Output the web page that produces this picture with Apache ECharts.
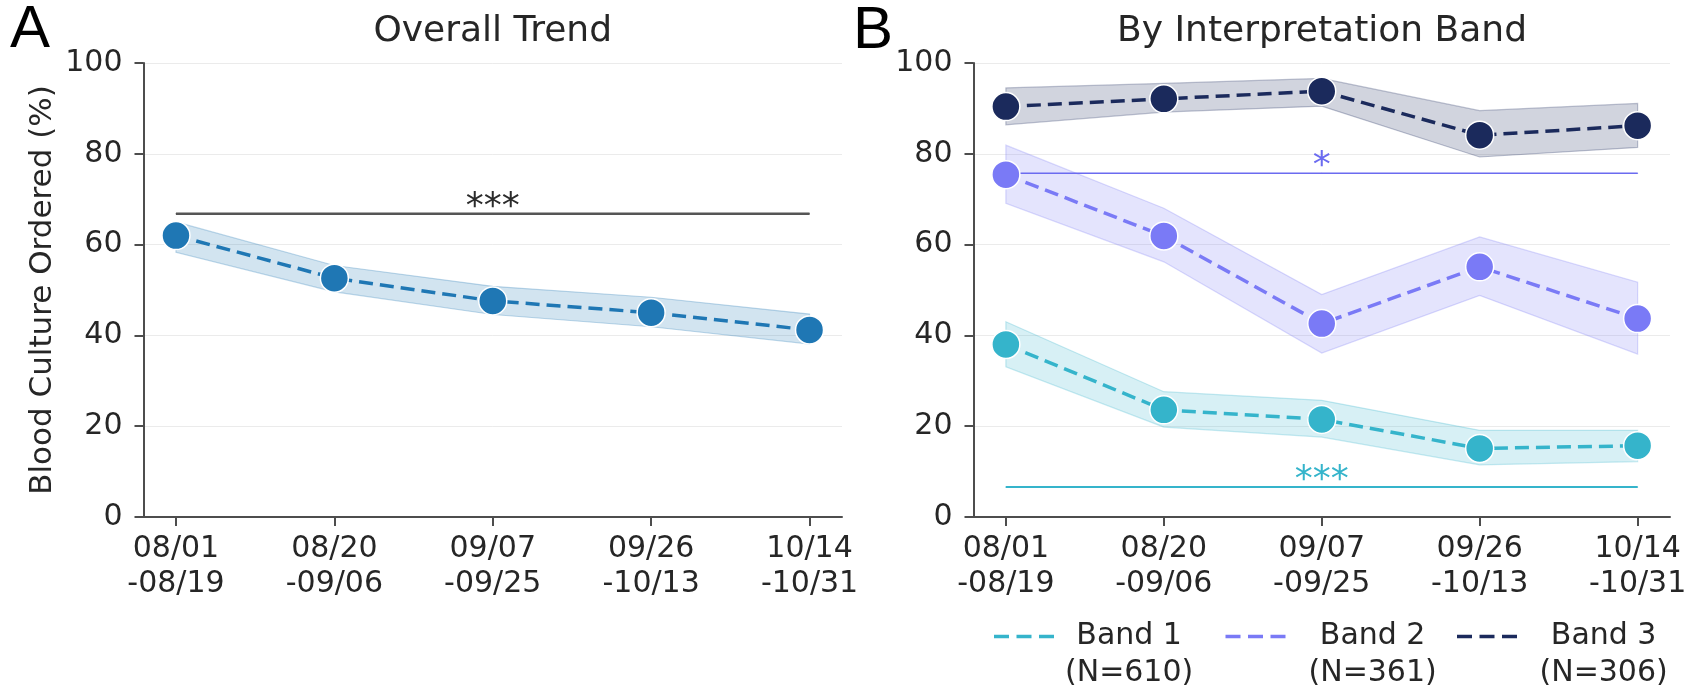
<!DOCTYPE html>
<html><head><meta charset="utf-8">
<script src="https://cdn.jsdelivr.net/npm/echarts@6/dist/echarts.min.js"></script>
<style>html,body{margin:0;padding:0;background:#fff}#c{width:1703px;height:691px}</style>
</head><body><div id="c"></div><script>
// ---------- data ----------
const periodStart = ['08/01', '08/20', '09/07', '09/26', '10/14'];
const periodEnd   = ['-08/19', '-09/06', '-09/25', '-10/13', '-10/31'];
const tickIdx = [0, 1, 2, 3, 4];

const overallMean = [62.0, 52.6, 47.6, 45.0, 41.2];
const overallLo   = [58.3, 49.6, 44.6, 41.9, 38.1];
const overallHi   = [65.0, 55.4, 50.8, 48.4, 44.7];
const overallSig  = 66.8;

const bandNames = ['Band 1', 'Band 2', 'Band 3'];
const bandN     = [610, 361, 306];
const band1Mean = [38.0, 23.6, 21.5, 15.1, 15.7];
const band1Lo   = [33.1, 19.8, 17.6, 11.5, 12.2];
const band1Hi   = [43.0, 27.6, 25.7, 19.1, 19.1];
const band2Mean = [75.4, 61.9, 42.6, 55.1, 43.7];
const band2Lo   = [69.1, 56.2, 36.1, 48.8, 35.9];
const band2Hi   = [81.9, 68.0, 49.0, 61.7, 51.7];
const band3Mean = [90.4, 92.1, 93.8, 84.1, 86.2];
const band3Lo   = [86.4, 89.2, 90.5, 79.3, 81.4];
const band3Hi   = [94.5, 95.5, 96.6, 89.5, 91.1];
const band1Sig  = 6.6;
const band2Sig  = 75.7;

// ---------- style ----------
const FONT = '"DejaVu Sans", Verdana, sans-serif';
const TXT = '#262626';
const AX = '#4d4d4d';
const C0 = '#1f77b4';
const C1 = '#35b4cb';
const C2 = '#7a7af6';
const C3 = '#1b2a5c';
function rgba(hex, a) {
  const n = parseInt(hex.slice(1), 16);
  return `rgba(${(n >> 16) & 255},${(n >> 8) & 255},${n & 255},${a})`;
}

function xAxis(gridIndex) {
  return {
    type: 'value', gridIndex, min: -0.205, max: 4.205,
    axisLine: { show: true, onZero: false, lineStyle: { color: AX, width: 2 } },
    axisTick: { show: true, customValues: tickIdx, length: 9, lineStyle: { color: AX, width: 2 } },
    axisLabel: {
      customValues: tickIdx,
      formatter: v => periodStart[Math.round(v)] + '\n' + periodEnd[Math.round(v)],
      fontSize: 30, lineHeight: 35, color: TXT, fontFamily: FONT, margin: 15
    },
    splitLine: { show: false }
  };
}
function yAxis(gridIndex, name) {
  const ax = {
    type: 'value', gridIndex, min: 0, max: 100, interval: 20,
    axisLine: { show: true, onZero: false, lineStyle: { color: AX, width: 2 } },
    axisTick: { show: true, length: 9, lineStyle: { color: AX, width: 2 } },
    axisLabel: { fontSize: 30, color: TXT, fontFamily: FONT, margin: 21 },
    splitLine: { show: true, lineStyle: { color: '#ebebeb', width: 1 } }
  };
  if (name) {
    ax.name = name; ax.nameLocation = 'middle'; ax.nameGap = 85;
    ax.nameTextStyle = { fontSize: 31, color: TXT, fontFamily: FONT };
  }
  return ax;
}
function ciBand(name, lo, hi, color, gi) {
  return {
    type: 'custom', name, xAxisIndex: gi, yAxisIndex: gi, silent: true, z: 1, clip: false,
    data: [0],
    renderItem: (params, api) => {
      const pts = [];
      for (let i = 0; i < hi.length; i++) pts.push(api.coord([i, hi[i]]));
      for (let i = lo.length - 1; i >= 0; i--) pts.push(api.coord([i, lo[i]]));
      return { type: 'polygon', shape: { points: pts },
        style: { fill: rgba(color, 0.2), stroke: rgba(color, 0.28), lineWidth: 1.2 } };
    }
  };
}
function meanLine(name, vals, color, gi) {
  return {
    type: 'line', name, xAxisIndex: gi, yAxisIndex: gi, z: 4,
    data: vals.map((v, i) => [i, v]),
    symbol: 'circle', symbolSize: 28,
    itemStyle: { color, borderColor: '#fff', borderWidth: 1.5 },
    lineStyle: { color, width: 3.5, type: [14, 7] },
    emphasis: { disabled: true }
  };
}
function sigLine(name, v, label, color, labelColor, width, gi) {
  return {
    type: 'line', name, xAxisIndex: gi, yAxisIndex: gi, z: 3,
    data: [[0, v], { value: [2, v], label: { show: true } }, [4, v]],
    symbol: 'circle', symbolSize: 1, itemStyle: { color },
    lineStyle: { color, width },
    label: { show: false, formatter: label, position: 'top', distance: 0, offset: [0, 12],
      fontSize: 36, color: labelColor, fontFamily: FONT },
    emphasis: { disabled: true }
  };
}

const DASH = 'path://M0,0h15v3.5h-15z M22.5,0h15v3.5h-15z M45,0h15v3.5h-15z';
const legendLeft = [994, 1225.5, 1457];
const legendPad = [6, 18, 17.5];

const option = {
  animation: false,
  backgroundColor: '#fff',
  grid: [
    { left: 143.5, top: 63, width: 698.5, height: 454 },
    { left: 973.5, top: 63, width: 696.5, height: 454 }
  ],
  xAxis: [xAxis(0), xAxis(1)],
  yAxis: [yAxis(0, 'Blood Culture Ordered (%)'), yAxis(1)],
  legend: bandNames.map((nm, i) => ({
    data: [nm], left: legendLeft[i], top: 621.5, padding: 0,
    itemWidth: 60, itemHeight: 3.5, icon: DASH, selectedMode: false,
    itemStyle: { borderWidth: 0 },
    formatter: n => `{a|${n}}\n{a|(N=${bandN[i]})}`,
    textStyle: { padding: [37, 0, 0, legendPad[i]],
      rich: { a: { align: 'center', fontSize: 30, lineHeight: 37, fontFamily: FONT, color: TXT } } }
  })),
  graphic: [
    { type: 'text', x: 10, y: 30, style: { text: 'A', font: '60px "Liberation Sans", Arial, sans-serif', fill: '#000', textAlign: 'left', textVerticalAlign: 'middle', align: 'left', verticalAlign: 'middle' } },
    { type: 'text', x: 853, y: 31, style: { text: 'B', font: '60px "Liberation Sans", Arial, sans-serif', fill: '#000', textAlign: 'left', textVerticalAlign: 'middle', align: 'left', verticalAlign: 'middle' } },
    { type: 'text', x: 492.7, y: 31.5, style: { text: 'Overall Trend', font: '36px ' + FONT, fill: TXT, textAlign: 'center', textVerticalAlign: 'middle', align: 'center', verticalAlign: 'middle' } },
    { type: 'text', x: 1322, y: 31.5, style: { text: 'By Interpretation Band', font: '36px ' + FONT, fill: TXT, textAlign: 'center', textVerticalAlign: 'middle', align: 'center', verticalAlign: 'middle' } }
  ],
  series: [
    ciBand('Overall CI', overallLo, overallHi, C0, 0),
    sigLine('Overall sig', overallSig, '***', '#555555', '#2b2b2b', 2.5, 0),
    meanLine('Overall', overallMean, C0, 0),

    ciBand('Band 1 CI', band1Lo, band1Hi, C1, 1),
    ciBand('Band 2 CI', band2Lo, band2Hi, C2, 1),
    ciBand('Band 3 CI', band3Lo, band3Hi, C3, 1),
    sigLine('Band 1 sig', band1Sig, '***', C1, C1, 2, 1),
    sigLine('Band 2 sig', band2Sig, '*', '#6b6bf0', '#6b6bf0', 1.6, 1),
    meanLine('Band 1', band1Mean, C1, 1),
    meanLine('Band 2', band2Mean, C2, 1),
    meanLine('Band 3', band3Mean, C3, 1)
  ]
};
const chart = echarts.init(document.getElementById('c'));
chart.setOption(option);
</script></body></html>
